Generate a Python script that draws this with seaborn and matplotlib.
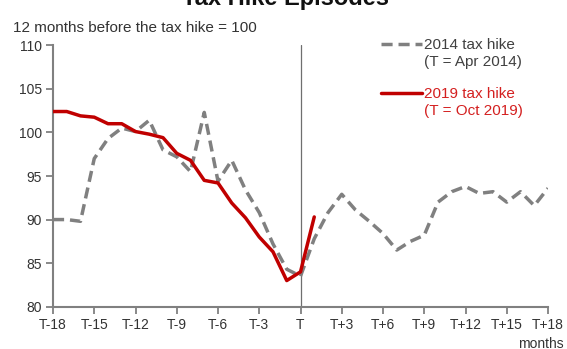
import numpy as np
import pandas as pd
import matplotlib
matplotlib.use("Agg")
import matplotlib.pyplot as plt
import seaborn as sns
from matplotlib.legend_handler import HandlerLine2D

# Months relative to the tax hike (T = 0)
months = list(range(-18, 19))

# Index, 12 months before the hike = 100
hike_2014 = [90.0, 90.0, 89.8, 97.0, 99.3, 100.5, 100.1, 101.4, 98.0, 97.2,
             95.5, 102.3, 94.4, 96.8, 93.4, 90.8, 87.2, 84.3, 83.5, 87.8,
             90.8, 92.9, 91.1, 89.8, 88.4, 86.5, 87.5, 88.2, 92.0, 93.2,
             93.8, 93.0, 93.2, 92.0, 93.2, 91.6, 93.6]
hike_2019 = [102.4, 102.4, 101.9, 101.75, 101.0, 101.0, 100.1, 99.8, 99.4, 97.6,
             96.8, 94.5, 94.2, 91.9, 90.2, 88.0, 86.3, 83.0, 84.0, 90.3]

series_names = ["2014 tax hike\n(T = Apr 2014)", "2019 tax hike\n(T = Oct 2019)"]
series_colors = ["#808080", "#C00000"]
legend_text_colors = ["#404040", "#D42020"]

tick_months = list(range(-18, 19, 3))
tick_labels = ["T-18", "T-15", "T-12", "T-9", "T-6", "T-3", "T",
               "T+3", "T+6", "T+9", "T+12", "T+15", "T+18"]
y_ticks = [80, 85, 90, 95, 100, 105, 110]

df = pd.concat([
    pd.DataFrame({"month": months, "value": hike_2014, "episode": series_names[0]}),
    pd.DataFrame({"month": months[:len(hike_2019)], "value": hike_2019,
                  "episode": series_names[1]}),
], ignore_index=True)

sns.set_style("ticks")
plt.rcParams["font.family"] = ["Liberation Sans", "DejaVu Sans"]
text_color = "#333333"
axis_color = "#808080"

fig = plt.figure(figsize=(5.67, 3.49), dpi=100)
ax = fig.add_axes([53 / 567, 1 - 306.7 / 349, 495 / 567, 261.4 / 349])

ax.axvline(0, color="#6f6f6f", lw=0.9, zorder=1)

sns.lineplot(data=df, x="month", y="value", hue="episode", style="episode",
             hue_order=series_names, style_order=series_names,
             palette=dict(zip(series_names, series_colors)),
             dashes={series_names[0]: (3.2, 1.7), series_names[1]: ""},
             linewidth=2.5, legend=False, ax=ax, zorder=3)

ax.set_xlim(-18, 18)
ax.set_ylim(80, 110)
ax.set_xticks(tick_months)
ax.set_xticklabels(tick_labels)
ax.set_yticks(y_ticks)
ax.set_xlabel("")
ax.set_ylabel("")

for side in ["top", "right"]:
    ax.spines[side].set_visible(False)
for side in ["left", "bottom"]:
    ax.spines[side].set_color(axis_color)
    ax.spines[side].set_linewidth(1.5)
ax.tick_params(axis="both", direction="out", length=5, width=1.3,
               color=axis_color, labelsize=10, labelcolor=text_color, pad=3)


class FirstLineHandler(HandlerLine2D):
    """Place the legend line level with the first line of a two-line label."""

    def create_artists(self, legend, orig_handle, xdescent, ydescent,
                       width, height, fontsize, trans):
        artists = super().create_artists(legend, orig_handle, xdescent, ydescent,
                                         width, height, fontsize, trans)
        for a in artists:
            a.set_ydata(np.asarray(a.get_ydata(), float) + 0.62 * fontsize)
        return artists


handles = ax.lines[1:3]
leg = fig.legend(handles, series_names, loc="upper left",
                 bbox_to_anchor=(381 / 567, 1 - 38 / 349),
                 frameon=False, fontsize=11, borderpad=0, borderaxespad=0,
                 handlelength=2.7, handletextpad=0.1, labelspacing=1.2,
                 handler_map={h: FirstLineHandler() for h in handles})
for t, c in zip(leg.get_texts(), legend_text_colors):
    t.set_color(c)
    t.set_linespacing(1.25)

fig.text(286 / 567, 1 - 5 / 349, "Tax Hike Episodes", ha="center", va="baseline",
         fontsize=17, fontweight="bold", color="#111111")
fig.text(13 / 567, 1 - 32 / 349, "12 months before the tax hike = 100",
         ha="left", va="baseline", fontsize=11, color=text_color)
fig.text(564 / 567, 1 - 337 / 349, "months", ha="right", va="top",
         fontsize=10, color=text_color)

fig.savefig("out.png", dpi=100)
